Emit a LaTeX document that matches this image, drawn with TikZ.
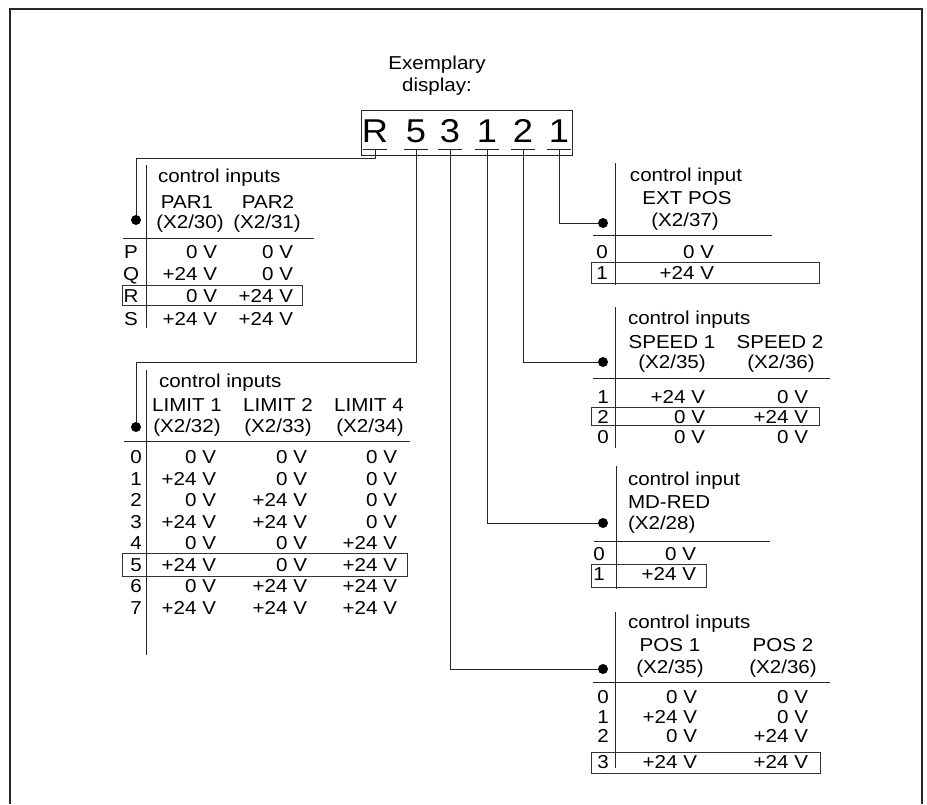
\documentclass[tikz,border=0pt]{standalone}
\usepackage{fontspec}
\setmainfont{Liberation Sans}[FakeStretch=1.1]
\begin{document}
\begin{tikzpicture}[x=1pt,y=-1pt,
  tx/.style={inner sep=0pt, outer sep=0pt, font=\fontsize{18.7}{20}\selectfont, text=black},
  c/.style={tx, anchor=base},
  r/.style={tx, anchor=base east},
  l/.style={tx, anchor=base west},
  ln/.style={line width=1pt, draw=black!85},
  rowbox/.style={line width=1pt, draw=black!80},
  dotn/.style={circle, fill=black, inner sep=0pt, minimum size=10pt},
  big/.style={inner sep=0pt, outer sep=0pt, anchor=base, font=\fontsize{33}{36}\selectfont}]
\useasboundingbox (0,0) rectangle (927,804);
\draw[line width=2.5pt, black!85] (10,804) -- (10,9) -- (922,9) -- (922,804);

% header
\node[c] (ex1) at (437,69.5) {Exemplary};
\node[c] (ex2) at (437,91) {display:};
\draw[ln] (361,110) rectangle (572,155);
\node[big] (dR) at (375,142) {R};
\node[big] (d5) at (416,142) {5};
\node[big] (d3) at (450,142) {3};
\node[big] (d1a) at (487,142) {1};
\node[big] (d2) at (523,142) {2};
\node[big] (d1b) at (559,142) {1};
\foreach \n/\x in {R/375,5/416,3/450,1a/487,2/523,1b/559}{
  \coordinate (u\n) at (\x,149);
  \draw[ln] (\x-12,149) -- (\x+12,149);
}

% dots
\node[dotn] (dotA) at (136,220) {};
\node[dotn] (dotB) at (136,427) {};
\node[dotn] (dotC) at (603,223) {};
\node[dotn] (dotD) at (603,362) {};
\node[dotn] (dotE) at (603,523) {};
\node[dotn] (dotF) at (603,669) {};
\coordinate (kR) at (136,158);
\coordinate (k5) at (136,362);

% connectors
\draw[ln] (uR) |- (kR) -- (dotA);
\draw[ln] (u5) |- (k5) -- (dotB);
\draw[ln] (u1b) |- (dotC);
\draw[ln] (u2) |- (dotD);
\draw[ln] (u1a) |- (dotE);
\draw[ln] (u3) |- (dotF);

% ---------- PAR table
\draw[ln] (146,165) -- (146,328);
\draw[ln] (123,238) -- (314,238);
\node[l] (pT) at (158,182) {control inputs};
\node[c] (pH1) at (187,208.5) {PAR1};
\node[c] (pH2) at (268,208.5) {PAR2};
\node[c] (pX1) at (190,228.5) {(X2/30)};
\node[c] (pX2) at (267,228.5) {(X2/31)};
\foreach \lab/\y/\a/\b in {P/258.5/0 V/0 V, Q/280.5/+24 V/0 V, R/302.5/0 V/+24 V, S/325/+24 V/+24 V}{
  \node[c] (pL\lab) at (131,\y) {\lab};
  \node[r] (pA\lab) at (217,\y) {\a};
  \node[r] (pB\lab) at (293,\y) {\b};
}
\draw[rowbox] (122,285) rectangle (302,305);

% ---------- LIMIT table
\draw[ln] (146,370) -- (146,655);
\draw[ln] (124,441) -- (410,441);
\node[l] (lT) at (159,387) {control inputs};
\node[c] (lH1) at (187,411.5) {LIMIT 1};
\node[c] (lH2) at (278,411.5) {LIMIT 2};
\node[c] (lH3) at (369,411.5) {LIMIT 4};
\node[c] (lX1) at (187,432) {(X2/32)};
\node[c] (lX2) at (278,432) {(X2/33)};
\node[c] (lX3) at (370,432) {(X2/34)};
\foreach \k/\a/\b/\cc in {0/0 V/0 V/0 V, 1/+24 V/0 V/0 V, 2/0 V/+24 V/0 V, 3/+24 V/+24 V/0 V,
  4/0 V/0 V/+24 V, 5/+24 V/0 V/+24 V, 6/0 V/+24 V/+24 V, 7/+24 V/+24 V/+24 V}{
  \pgfmathsetmacro{\yy}{463.5+21.5*\k}
  \node[c] (lL\k) at (136,\yy) {\k};
  \node[r] (lA\k) at (216,\yy) {\a};
  \node[r] (lB\k) at (307,\yy) {\b};
  \node[r] (lC\k) at (397,\yy) {\cc};
}
\draw[rowbox] (122,553) rectangle (407,576);

% ---------- EXT POS table
\draw[ln] (615,163) -- (615,285);
\draw[ln] (593,235) -- (772,235);
\node[c] (eT) at (686,181) {control input};
\node[c] (eH) at (687,204.5) {EXT POS};
\node[c] (eX) at (685,226.5) {(X2/37)};
\node[c] (eL0) at (602,258.5) {0};
\node[r] (eA0) at (714,258.5) {0 V};
\node[c] (eL1) at (602,279.5) {1};
\node[r] (eA1) at (714,279.5) {+24 V};
\draw[rowbox] (591,262) rectangle (819,283);

% ---------- SPEED table
\draw[ln] (615,307) -- (615,448);
\draw[ln] (593,378) -- (830,378);
\node[l] (sT) at (628,324) {control inputs};
\node[c] (sH1) at (672,348.5) {SPEED 1};
\node[c] (sH2) at (780,348.5) {SPEED 2};
\node[c] (sX1) at (672,368.5) {(X2/35)};
\node[c] (sX2) at (781,368.5) {(X2/36)};
\foreach \n/\y/\a/\b in {1/403/+24 V/0 V, 2/423/0 V/+24 V, 0/443/0 V/0 V}{
  \node[c] (sL\n) at (603,\y) {\n};
  \node[r] (sA\n) at (705,\y) {\a};
  \node[r] (sB\n) at (808,\y) {\b};
}
\draw[rowbox] (591,407) rectangle (819,425);

% ---------- MD-RED table
\draw[ln] (616,466) -- (616,589);
\draw[ln] (594,541) -- (770,541);
\node[l] (mT) at (628,485.5) {control input};
\node[l] (mH) at (628,508.5) {MD-RED};
\node[l] (mX) at (628,529.5) {(X2/28)};
\node[c] (mL0) at (599,560.5) {0};
\node[r] (mA0) at (696,560.5) {0 V};
\node[c] (mL1) at (599,580.5) {1};
\node[r] (mA1) at (696,580.5) {+24 V};
\draw[rowbox] (591,564) rectangle (706,587);

% ---------- POS table
\draw[ln] (615,612) -- (615,768);
\draw[ln] (593,682) -- (830,682);
\node[l] (qT) at (628,628.5) {control inputs};
\node[c] (qH1) at (670,651.5) {POS 1};
\node[c] (qH2) at (783,651.5) {POS 2};
\node[c] (qX1) at (670,673.5) {(X2/35)};
\node[c] (qX2) at (783,673.5) {(X2/36)};
\foreach \n/\y/\a/\b in {0/703.5/0 V/0 V, 1/723.5/+24 V/0 V, 2/742/0 V/+24 V, 3/768/+24 V/+24 V}{
  \node[c] (qL\n) at (603,\y) {\n};
  \node[r] (qA\n) at (697,\y) {\a};
  \node[r] (qB\n) at (808,\y) {\b};
}
\draw[rowbox] (591,752) rectangle (820,773);
\end{tikzpicture}
\end{document}
